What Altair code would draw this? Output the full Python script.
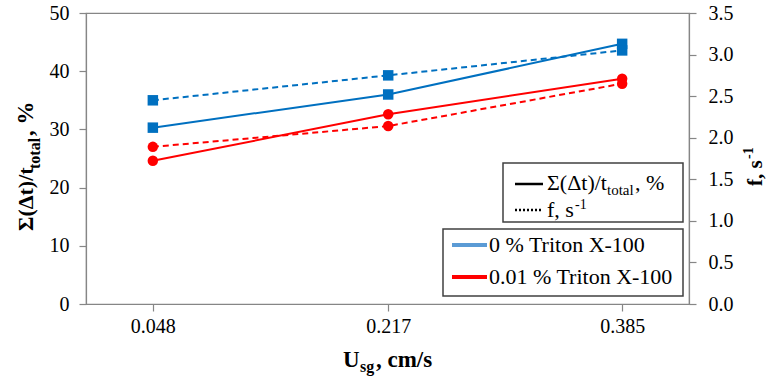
import altair as alt
import pandas as pd

# ---------------- data ----------------
usg = [0.048, 0.217, 0.385]
series_names = ["0 % Triton X-100", "0.01 % Triton X-100"]
pct_0 = [30.3, 36.0, 44.7]        # Σ(Δt)/t_total, %  (0 % Triton)
pct_001 = [24.6, 32.6, 38.7]      # Σ(Δt)/t_total, %  (0.01 % Triton)
f_0 = [2.45, 2.75, 3.05]          # f, s^-1 (0 % Triton)
f_001 = [1.89, 2.14, 2.65]        # f, s^-1 (0.01 % Triton)
x_ticks = [0.048, 0.217, 0.385]
left_ticks = [0, 10, 20, 30, 40, 50]
right_ticks = [0.0, 0.5, 1.0, 1.5, 2.0, 2.5, 3.0, 3.5]
marker_colors = ["#0070C0", "#FF0000"]
marker_shapes = ["square", "circle"]
legend_line_colors = ["#5B9BD5", "#FF0000"]

left_title = ["Σ(Δt)/t", "total", ", %"]
right_title = ["f, s", "-1"]
x_title = ["U", "sg", ", cm/s"]
style_legend = ["Σ(Δt)/t", "total", ", %", "f, s", "-1"]

FONT = "Liberation Serif"
OX, OY = 86, 13            # plot origin in page pixels
W, H = 603, 291

rows_pct = []
rows_f = []
for name, pv, fv in [(series_names[0], pct_0, f_0), (series_names[1], pct_001, f_001)]:
    for x, p, f in zip(usg, pv, fv):
        rows_pct.append({"usg": x, "value": p, "series": name})
        rows_f.append({"usg": x, "value": f, "series": name})
df_pct = pd.DataFrame(rows_pct)
df_f = pd.DataFrame(rows_f)

axis_common = dict(
    labelFont=FONT, labelFontSize=20, labelColor="#000000",
    domainColor="#868686", tickColor="#868686", tickSize=7,
    domainWidth=1.2, tickWidth=1.2, grid=False, title="",
)

x_enc = alt.X(
    "usg:Q",
    scale=alt.Scale(domain=[0, 0.433], nice=False, zero=False),
    axis=alt.Axis(values=x_ticks, format=".3f", labelPadding=5, **axis_common),
)
color_enc = alt.Color("series:N", scale=alt.Scale(domain=series_names, range=marker_colors), legend=None)
shape_enc = alt.Shape("series:N", scale=alt.Scale(domain=series_names, range=marker_shapes), legend=None)

y_left = alt.Y(
    "value:Q",
    scale=alt.Scale(domain=[0, 50], nice=False),
    axis=alt.Axis(values=left_ticks, format="d", labelPadding=10, orient="left", **axis_common),
)
y_right = alt.Y(
    "value:Q",
    scale=alt.Scale(domain=[0, 3.5], nice=False),
    axis=alt.Axis(values=right_ticks, format=".1f", labelPadding=12, orient="right", **axis_common),
)

pct_line = alt.Chart(df_pct).mark_line(strokeWidth=2).encode(x=x_enc, y=y_left, color=color_enc, detail="series:N")
pct_pts = alt.Chart(df_pct).mark_point(filled=True, opacity=1, size=110).encode(
    x=x_enc, y=y_left, color=color_enc, shape=shape_enc)
f_line = alt.Chart(df_f).mark_line(strokeWidth=2, strokeDash=[6, 4]).encode(
    x=x_enc, y=y_right, color=color_enc, detail="series:N")
f_pts = alt.Chart(df_f).mark_point(filled=True, opacity=1, size=110).encode(
    x=x_enc, y=y_right, color=color_enc, shape=shape_enc)

pct_layer = alt.layer(pct_line, pct_pts)
f_layer = alt.layer(f_line, f_pts)

one = pd.DataFrame({"k": [0]})


def txt(s, x, y, size, bold=True, angle=0):
    return alt.Chart(pd.DataFrame({"t": [s]})).mark_text(
        align="left", baseline="alphabetic", font=FONT, fontSize=size,
        fontWeight="bold" if bold else "normal", angle=angle, color="#000000",
    ).encode(text="t:N", x=alt.value(x - OX), y=alt.value(y - OY))


def box(x1, y1, x2, y2):
    return alt.Chart(one).mark_rect(fill="white", stroke="#404040", strokeWidth=1.5).encode(
        x=alt.value(x1 - OX), x2=alt.value(x2 - OX), y=alt.value(y1 - OY), y2=alt.value(y2 - OY))


def hline(x1, x2, y, color, width, dash=None):
    kw = dict(color=color, strokeWidth=width)
    if dash:
        kw["strokeDash"] = dash
    return alt.Chart(one).mark_rule(**kw).encode(
        x=alt.value(x1 - OX), x2=alt.value(x2 - OX), y=alt.value(y - OY))


annot = [
    # left axis title (rotated)
    txt(left_title[0], 33, 231, 22, angle=270),
    txt(left_title[1], 40, 169, 16, angle=270),
    txt(left_title[2], 33, 136, 23, angle=270),
    # right axis title (rotated)
    txt(right_title[0], 762, 186, 21, angle=270),
    txt(right_title[1], 753, 159, 14, angle=270),
    # x axis title
    txt(x_title[0], 343, 367, 23),
    txt(x_title[1], 360, 372, 16),
    txt(x_title[2], 376, 367, 23),
    # style legend
    box(503, 163, 683, 222),
    hline(515, 543, 184, "#000000", 2.5),
    hline(515, 543, 210, "#000000", 2.5, [2, 2]),
    txt(style_legend[0], 547, 190, 22, bold=False),
    txt(style_legend[1], 607, 195, 15, bold=False),
    txt(style_legend[2], 635, 190, 22, bold=False),
    txt(style_legend[3], 547, 217, 22, bold=False),
    txt(style_legend[4], 575, 209, 14, bold=False),
    # series legend
    box(443, 229, 683, 296),
    hline(452, 487, 245, legend_line_colors[0], 4),
    hline(452, 487, 277, legend_line_colors[1], 4),
    txt(series_names[0], 489, 252, 22, bold=False),
    txt(series_names[1], 489, 284, 22, bold=False),
]

chart = alt.layer(pct_layer, f_layer, *annot).resolve_scale(y="independent").properties(
    width=W, height=H,
    autosize=alt.AutoSizeParams(type="none"),
    padding={"left": OX, "top": OY, "right": 768 - OX - W, "bottom": 382 - OY - H},
    background="white",
).configure_view(stroke="#868686", strokeWidth=1.2)

chart.save("out.html", embed_options={"renderer": "svg", "actions": False})
